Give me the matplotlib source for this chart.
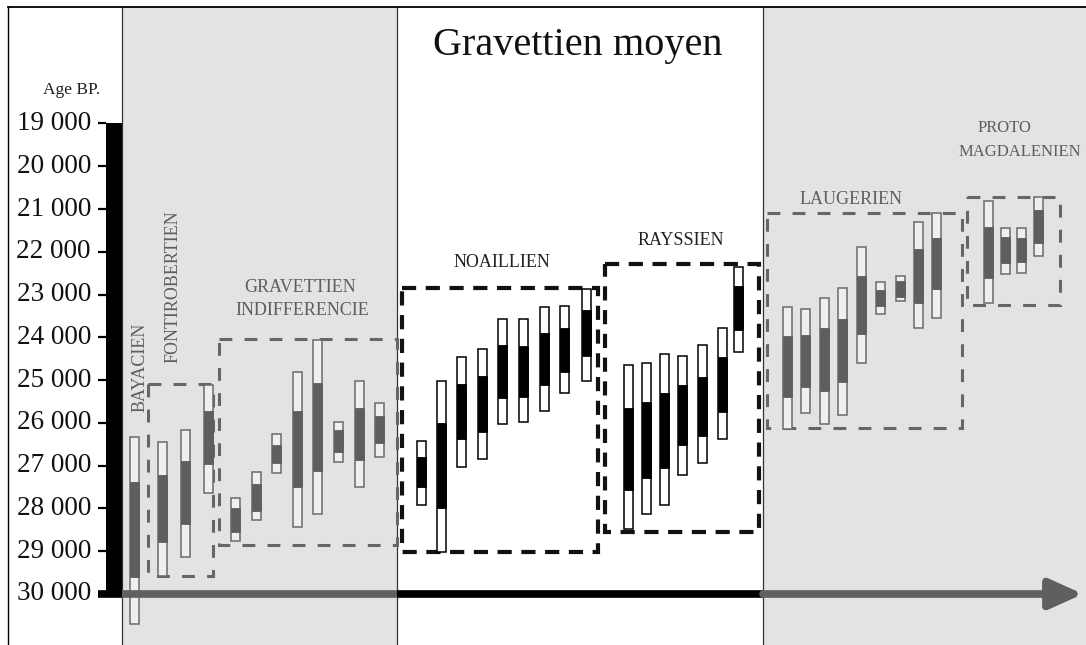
import matplotlib.pyplot as plt
from matplotlib.patches import Rectangle
from matplotlib.lines import Line2D

W, H = 1086, 645
# pixel rows of the 19 000 and 30 000 graduations
Y19, Y30 = 123.5, 594.0
PX_PER_YEAR = (Y30 - Y19) / 11000

SERIF = ['Liberation Serif', 'DejaVu Serif']
GREY_BG = '#e3e3e3'
GREY_INK = '#5e5e5e'

# age scale
ticks = [19000, 20000, 21000, 22000, 23000, 24000, 25000, 26000, 27000, 28000, 29000, 30000]
tick_labels = ['19 000', '20 000', '21 000', '22 000', '23 000', '24 000',
               '25 000', '26 000', '27 000', '28 000', '29 000', '30 000']

# dated sites: (x, full range young, full range old, core young, core old)
bayacien = [(134, 26330, 30700, 27390, 29600)]
fontirobertien = [(162, 26450, 29580, 27220, 28780),
                  (185, 26160, 29140, 26890, 28370),
                  (208, 25120, 27650, 25720, 26970)]
indifferencie = [(235, 27750, 28770, 27980, 28540),
                 (256, 27140, 28260, 27420, 28050),
                 (276, 26250, 27160, 26510, 26930),
                 (297, 24810, 28430, 25720, 27510),
                 (317, 24060, 28120, 25060, 27120),
                 (338, 25970, 26910, 26160, 26670),
                 (359, 25030, 27490, 25650, 26860),
                 (379, 25530, 26790, 25830, 26460)]
noaillien = [(421, 26420, 27910, 26790, 27510),
             (441, 25010, 29010, 26000, 28000),
             (461, 24450, 27020, 25090, 26370),
             (482, 24270, 26840, 24900, 26210),
             (502, 23570, 26020, 24170, 25410),
             (523, 23570, 25970, 24200, 25390),
             (544, 23290, 25720, 23890, 25110),
             (564, 23260, 25300, 23780, 24810),
             (586, 22870, 25010, 23360, 24430)]
rayssien = [(628, 24640, 28470, 25650, 27560),
            (646, 24590, 28140, 25510, 27280),
            (664, 24380, 27910, 25290, 27050),
            (682, 24430, 27210, 25110, 26510),
            (702, 24170, 26930, 24920, 26300),
            (722, 23780, 26370, 24450, 25740),
            (738, 22350, 24340, 22800, 23820)]
laugerien = [(787, 23290, 26140, 23960, 25390),
             (805, 23330, 25760, 23940, 25160),
             (824, 23080, 26020, 23780, 25250),
             (842, 22840, 25810, 23570, 25040),
             (861, 21890, 24590, 22560, 23920),
             (880, 22700, 23450, 22890, 23260),
             (900, 22560, 23150, 22680, 23050),
             (918, 21300, 23780, 21930, 23190),
             (936, 21090, 23540, 21680, 22870)]
proto_magdalenien = [(988, 20810, 23190, 21420, 22610),
                     (1005, 21440, 22520, 21650, 22260),
                     (1021, 21440, 22490, 21680, 22240),
                     (1038, 20720, 22100, 21020, 21790)]

# group frames: (x left, x right, age young, age old)
frame_fontirobertien = (148, 213, 25080, 29580)
frame_indifferencie = (219, 397, 24040, 28860)
frame_noaillien = (402, 598, 22840, 29010)
frame_rayssien = (605, 759, 22280, 28540)
frame_laugerien = (767, 962, 21090, 26110)
frame_proto = (967, 1060, 20720, 23240)

fig = plt.figure(figsize=(W / 100, H / 100), dpi=100)
ax = fig.add_axes([0, 0, 1, 1])
ax.set_xlim(0, W)
ax.set_ylim(30000 + (H - Y30) / PX_PER_YEAR, 19000 - Y19 / PX_PER_YEAR)
ax.axis('off')


def fig_xy(x, y):
    return x / W, 1 - y / H


top = 1 - 7 / H
# shaded periods on both sides of the middle Gravettian
ax.axvspan(122, 397, ymin=0, ymax=top, color=GREY_BG, lw=0, zorder=0)
ax.axvspan(763, W, ymin=0, ymax=top, color=GREY_BG, lw=0, zorder=0)
for xb in (122, 397, 763):
    ax.axvline(xb, ymin=0, ymax=top, color='#333333', lw=0.9, zorder=1)
fig.add_artist(Line2D([8 / W, 1], [top, top], color='black', lw=1.3))
fig.add_artist(Line2D([8 / W, 8 / W], [0, top], color='black', lw=1.0))


def draw_sites(sites, dark):
    xs = [s[0] for s in sites]
    if dark:
        face, edge, core = 'white', 'black', 'black'
    else:
        face, edge, core = '#efefef', '#6a6a6a', GREY_INK
    ax.bar(xs, [s[2] - s[1] for s in sites], bottom=[s[1] for s in sites],
           width=9, color=face, edgecolor=edge, lw=1.1, zorder=4)
    ax.bar(xs, [s[4] - s[3] for s in sites], bottom=[s[3] for s in sites],
           width=9, color=core, edgecolor=core, lw=0.6, zorder=5)


def draw_frame(fr, dark):
    x0, x1, a0, a1 = fr
    if dark:
        style = dict(ec='#111111', lw=3.0, ls=(0, (3.4, 2.3)))
    else:
        style = dict(ec='#666666', lw=2.2, ls=(0, (4.2, 4.0)))
    ax.add_patch(Rectangle((x0, a0), x1 - x0, a1 - a0, fill=False, zorder=3, **style))


for fr in (frame_fontirobertien, frame_indifferencie, frame_laugerien, frame_proto):
    draw_frame(fr, False)
for fr in (frame_noaillien, frame_rayssien):
    draw_frame(fr, True)

for grp in (bayacien, fontirobertien, indifferencie, laugerien, proto_magdalenien):
    draw_sites(grp, False)
for grp in (noaillien, rayssien):
    draw_sites(grp, True)

# age scale bar, graduations and time arrow
ax.bar(114, 30000 - 19000, bottom=19000, width=16, color='black', zorder=6)
ax.hlines(ticks[:-1], 98, 106, color='black', lw=1.6, zorder=6)
ax.hlines(30000, 98, 122, color='black', lw=5.5, zorder=6)
ax.hlines(30000, 122, 397, color='#5f5f5f', lw=5.5, zorder=6)
ax.hlines(30000, 397, 763, color='black', lw=5.5, zorder=6)
ax.annotate('', xy=(1083, 30000), xytext=(763, 30000),
            arrowprops=dict(arrowstyle='-|>,head_length=1.0,head_width=0.45',
                            mutation_scale=20, lw=5.5, color='#5f5f5f',
                            shrinkA=0, shrinkB=0), zorder=6)

for t, lab in zip(ticks, tick_labels):
    ax.text(91, t, lab, ha='right', va='center', fontsize=19.5, family=SERIF, color='#111111')

fig.text(*fig_xy(72, 90), 'Age BP.', ha='center', va='center', fontsize=12.5,
         family=SERIF, color='#222222')
fig.text(*fig_xy(578, 55), 'Gravettien moyen', ha='center', va='baseline',
         fontsize=29, family=SERIF, color='#111111')

# group names
lab = dict(family=SERIF, ha='center', va='center')
fig.text(*fig_xy(140, 367), 'BAYACIEN', rotation=90, color=GREY_INK, fontsize=13, **lab)
fig.text(*fig_xy(173, 287), 'FONTIROBERTIEN', rotation=90, color=GREY_INK, fontsize=13, **lab)
fig.text(*fig_xy(300, 287), 'GRAVETTIEN', color=GREY_INK, fontsize=13, **lab)
fig.text(*fig_xy(302, 311), 'INDIFFERENCIE', color=GREY_INK, fontsize=13, **lab)
fig.text(*fig_xy(502, 263), 'NOAILLIEN', color='#222222', fontsize=13, **lab)
fig.text(*fig_xy(681, 241), 'RAYSSIEN', color='#222222', fontsize=13, **lab)
fig.text(*fig_xy(851, 200), 'LAUGERIEN', color=GREY_INK, fontsize=13, **lab)
fig.text(*fig_xy(1004, 128), 'PROTO', color=GREY_INK, fontsize=12, **lab)
fig.text(*fig_xy(1020, 152), 'MAGDALENIEN', color=GREY_INK, fontsize=12, **lab)

fig.savefig('out.png', dpi=100)
